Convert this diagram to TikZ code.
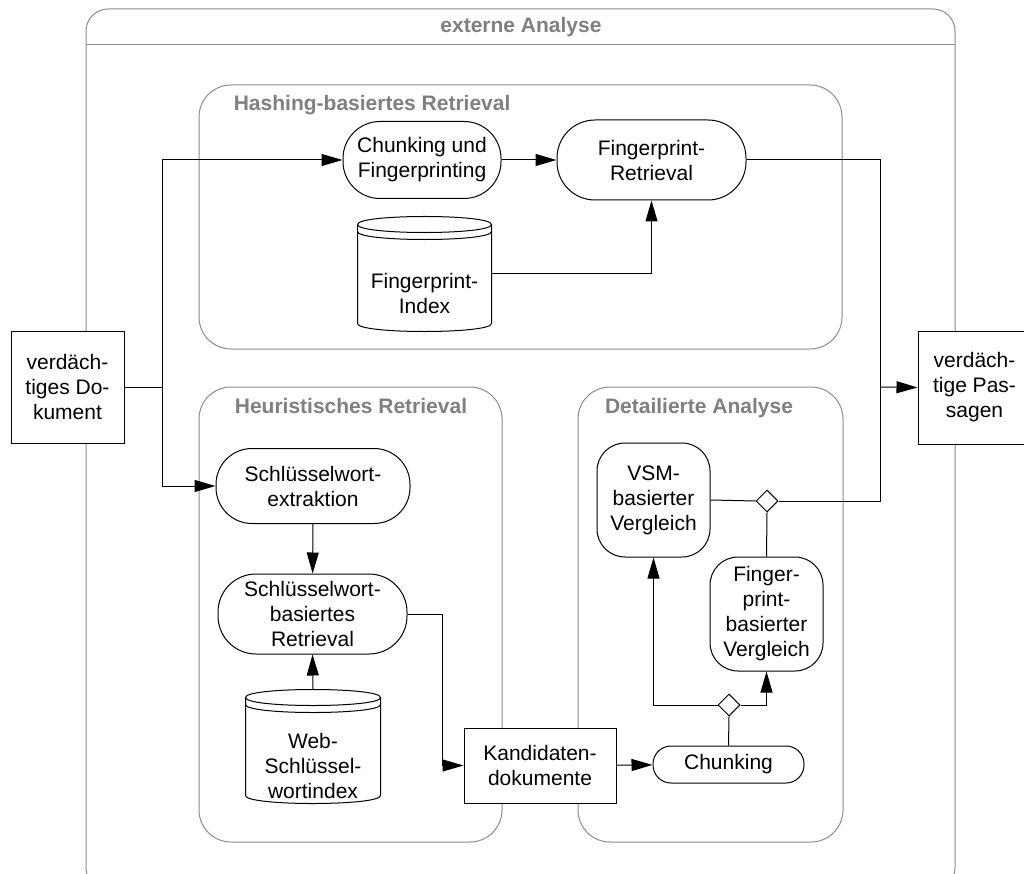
\documentclass[tikz,border=0pt]{standalone}
\usepackage{fontspec}
\setmainfont{Liberation Sans}
\usetikzlibrary{arrows.meta, positioning, shapes.geometric, calc}

\definecolor{colFrame}{RGB}{140,140,140}
\definecolor{colTitle}{RGB}{128,128,128}

\tikzset{
    activity/.style={draw, fill=white, rounded corners=#1, align=center, inner sep=0pt},
    activity/.default=28pt,
    doc/.style={draw, fill=white, align=center, inner sep=0pt},
    group/.style={draw=colFrame, rounded corners=#1},
    group/.default=32pt,
    grouptitle/.style={text=colTitle, font=\fontsize{21}{25}\selectfont\bfseries},
    flow/.style={-{Triangle[length=21pt, width=12pt]}},
    merge/.style={draw, fill=white, diamond, minimum width=22pt, minimum height=22pt, inner sep=0pt}
}

% Datenbank-Zylinder: Name, Mitte, Breite, Hoehe, Text
\newcommand{\dbcyl}[5]{%
    \node[minimum width=#3, minimum height=#4, inner sep=0pt] (#1) at #2 {};
    \draw[fill=white]
        ($(#1.north west)+(0,8)$) .. controls ($(#1.north west)+(0,-2.67)$) and ($(#1.north east)+(0,-2.67)$) .. ($(#1.north east)+(0,8)$)
        -- ($(#1.south east)+(0,-8)$) .. controls ($(#1.south east)+(0,2.67)$) and ($(#1.south west)+(0,2.67)$) .. ($(#1.south west)+(0,-8)$) -- cycle;
    \draw ($(#1.north west)+(0,8)$) .. controls ($(#1.north west)+(0,18.67)$) and ($(#1.north east)+(0,18.67)$) .. ($(#1.north east)+(0,8)$);
    \draw ($(#1.north west)+(0,15)$) .. controls ($(#1.north west)+(0,25.67)$) and ($(#1.north east)+(0,25.67)$) .. ($(#1.north east)+(0,15)$);
    \node[align=center] (#1-txt) at ($(#1)+(0,19)$) {#5};
}

\begin{document}
\begin{tikzpicture}[x=1pt, y=-1pt, line width=1pt, every node/.style={font=\fontsize{21}{25}\selectfont}]
    \useasboundingbox (0,0) rectangle (1024,874);
    \clip (0,0) rectangle (1024,874);

    % --- Rahmen externe Analyse ---
    \draw[group=22pt] (86,9) rectangle (955,890);
    \draw[draw=colFrame] (86,45) -- (955,45);
    \node[grouptitle, anchor=base] (t-ext) at (521,33) {externe Analyse};

    % --- Gruppen ---
    \draw[group] (199,85) rectangle (842,349);
    \node[grouptitle, anchor=base west] (t-hash) at (230,111) {Hashing-basiertes Retrieval};
    \draw[group] (199,387) rectangle (502,842);
    \node[grouptitle, anchor=base] (t-heur) at (351,413) {Heuristisches Retrieval};
    \draw[group] (578,387) rectangle (843,842);
    \node[grouptitle, anchor=base] (t-det) at (699,413) {Detailierte Analyse};

    % --- Ein- und Ausgabe ---
    \node[doc, minimum width=113pt, minimum height=112pt] (dok) at (67.5,387) {verdäch-\\tiges Do-\\kument};
    \node[doc, minimum width=113pt, minimum height=113pt] (pas) at (974.5,387.5) {verdäch-\\tige Pas-\\sagen};

    % --- Hashing-basiertes Retrieval ---
    \node[activity=37pt, minimum width=158pt, minimum height=77pt] (chfp) at (422,160) {Chunking und\\Fingerprinting};
    \node[activity=38pt, minimum width=189pt, minimum height=80pt] (fpret) at (651.5,160) {Fingerprint-\\Retrieval};
    \dbcyl{fpidx}{(424.5,274)}{133pt}{114pt}{Fingerprint-\\Index}

    % --- Heuristisches Retrieval ---
    \node[activity=36pt, minimum width=194pt, minimum height=75pt] (swext) at (313,486) {Schlüsselwort-\\extraktion};
    \node[activity=38pt, minimum width=189pt, minimum height=80pt] (swret) at (312.5,614) {Schlüsselwort-\\basiertes\\Retrieval};
    \dbcyl{webidx}{(313,746.5)}{134pt}{113pt}{Web-\\Schlüssel-\\wortindex}
    \node[doc, minimum width=152pt, minimum height=75pt] (kand) at (540,765.5) {Kandidaten-\\dokumente};

    % --- Detailierte Analyse ---
    \node[activity, minimum width=113pt, minimum height=114pt] (vsm) at (653.5,500) {VSM-\\basierter\\Vergleich};
    \node[activity, minimum width=113pt, minimum height=114pt] (fpv) at (766.5,614) {Finger-\\print-\\basierter\\Vergleich};
    \node[activity=18pt, minimum width=151pt, minimum height=37pt] (chunk) at (728.5,764.5) {Chunking};
    \node[merge] (dia1) at (767,501) {};
    \node[merge] (dia2) at (729,705) {};

    % --- Verbindungen ---
    \coordinate (split) at (162,387);
    \coordinate (join) at (880,387);
    \draw (dok.east) -- (split);
    \draw[flow] (split) |- (chfp.west);
    \draw[flow] (split) |- (swext.west);
    \draw[flow] (chfp) -- (fpret);
    \draw[flow] (fpidx.east) -| (fpret.south);
    \draw (fpret.east) -| (join);
    \draw (dia1.east) -| (join);
    \draw[flow] (join) -- (pas.west);

    \draw[flow] (swext) -- (swret);
    \draw[flow] (webidx.north) -- (swret.south);
    \draw[flow] (swret.east) -- ++(35,0) |- (kand.west);
    \draw[flow] (kand) -- (chunk);

    \draw (chunk.north) -- (dia2.south);
    \draw[flow] (dia2.west) -| (vsm.south);
    \draw[flow] (dia2.east) -| (fpv.south);
    \draw (vsm.east) -- (dia1.west);
    \draw (fpv.north) -- (dia1.south);
\end{tikzpicture}
\end{document}
